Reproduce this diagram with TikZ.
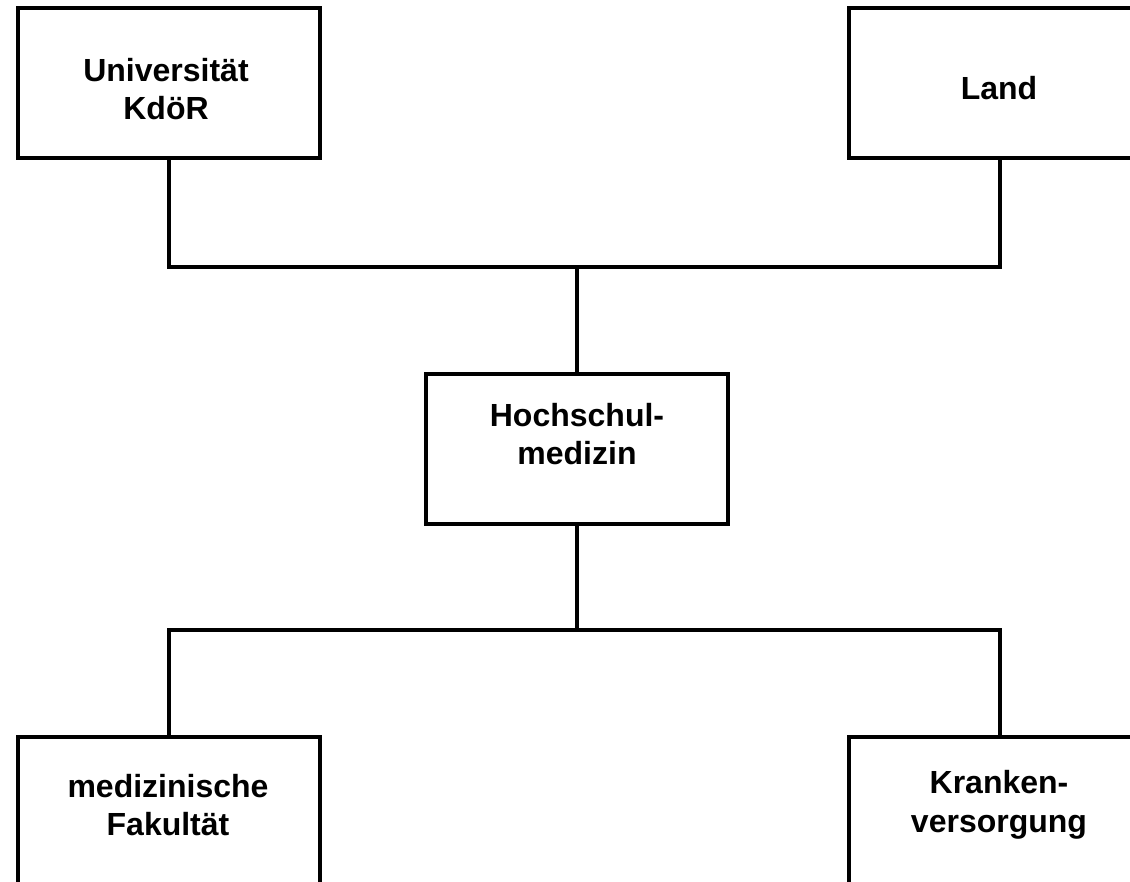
\documentclass[tikz,border=0pt]{standalone}
\usepackage{fontspec}
\setmainfont{Liberation Sans}
\begin{document}
\begin{tikzpicture}[x=1pt,y=-1pt,
  box/.style={draw, line width=4pt, minimum width=302pt, minimum height=150pt, inner sep=0pt},
  lbl/.style={font=\bfseries\fontsize{32}{38.5}\selectfont, align=center, inner sep=0pt},
  link/.style={line width=4pt, line join=miter}]
\useasboundingbox (0,0) rectangle (1130,882);
\clip (0,0) rectangle (1130,882);
\fill[white] (0,0) rectangle (1130,882);
\node[box] (uni)  at (169,83.5) {};
\node[box] (land) at (1000,83.5) {};
\node[box] (hm)   at (576.5,449) {};
\node[box] (fak)  at (169,812) {};
\node[box] (kv)   at (1000,812) {};
\node[lbl] (unit)  at (166,89) {Universität\\KdöR};
\node[lbl] (landt) at (999,88) {Land};
\node[lbl] (hmt)   at (577,434) {Hochschul-\\medizin};
\node[lbl] (fakt)  at (168,805) {medizinische\\Fakultät};
\node[lbl] (kvt)   at (999,805) {Kranken-\\versorgung};
\coordinate (j1) at (576.5,267);
\coordinate (j2) at (576.5,630);
\draw[link] (uni.south) |- (j1) -| (land.south);
\draw[link] (j1) -- (hm.north);
\draw[link] (hm.south) -- (j2);
\draw[link] (fak.north) |- (j2) -| (kv.north);
\end{tikzpicture}
\end{document}
